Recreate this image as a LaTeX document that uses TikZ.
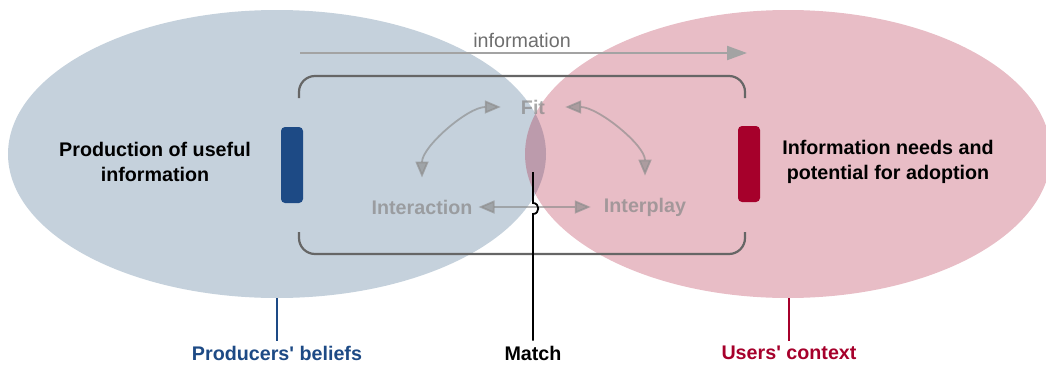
\documentclass[tikz,border=0pt]{standalone}
\usepackage{fontspec}
\setmainfont{Liberation Sans}
\usetikzlibrary{shapes.geometric,arrows.meta,calc}
\definecolor{prodblue}{HTML}{1F4E79}
\definecolor{userred}{HTML}{A50021}
\definecolor{barblue}{HTML}{1D4A85}
\definecolor{barred}{HTML}{A6002B}
\definecolor{faint}{HTML}{8C8C8C}
\definecolor{infogray}{HTML}{A3A3A3}
\definecolor{bracketgray}{HTML}{666666}
\begin{document}
\begin{tikzpicture}[x=1pt,y=-1pt,
  every node/.style={font=\fontsize{19.7}{25}\selectfont, inner sep=0pt},
  region/.style={ellipse, fill opacity=0.26, inner sep=0pt},
  bar/.style={rounded corners=4pt, minimum width=22pt, minimum height=76pt},
  heading/.style={font=\fontsize{19.7}{25}\selectfont\bfseries, align=center},
  faded/.style={font=\fontsize{19.7}{25}\selectfont\bfseries, text=faint, text opacity=0.75},
  fadearrow/.style={draw=faint, draw opacity=0.65, fill opacity=0.65, line width=1.8pt,
    {Triangle[length=16pt,width=13pt]}-{Triangle[length=16pt,width=13pt]}},
  bracket/.style={draw=bracketgray, line width=2.2pt, rounded corners=16pt},
  stem/.style={line width=1.8pt}
]
\useasboundingbox (0,0) rectangle (1046,367);

% the two context regions
\node[region, fill=prodblue, minimum width=538pt, minimum height=288pt] (prod) at (277,154) {};
\node[region, fill=userred, minimum width=526pt, minimum height=288pt] (users) at (788,154) {};

% information flow
\coordinate (infostart) at (300,53);
\coordinate (infoend) at (747,53);
\draw[draw=infogray, line width=2.2pt, -{Triangle[length=20pt,width=14pt]}] (infostart) -- (infoend);
\node[font=\fontsize{19.7}{25}\selectfont, text=black!57] (infolabel) at (522,40) {information};

% brackets around the match
\draw[bracket] (299,98) -- (299,76) -- (745,76) -- (745,98);
\draw[bracket] (299,232) -- (299,254) -- (745,254) -- (745,232);

% side bars
\node[bar, fill=barblue] (prodbar) at (292,165) {};
\node[bar, fill=barred] (userbar) at (749,164) {};

% main texts
\node[heading] (prodtext) at (155,162) {Production of useful\\information};
\node[heading] (usertext) at (888,162) {Information needs and\\potential for adoption};

% fit / interaction / interplay
\node[faded] (fit) at (533,107) {Fit};
\node[faded] (interaction) at (422,207) {Interaction};
\node[faded] (interplay) at (645,207) {Interplay};

\draw[fadearrow, shorten <=22pt, shorten >=20pt] (interaction.north) to[out=90,in=180] (fit.west);
\draw[fadearrow, shorten <=20pt, shorten >=22pt] (fit.east) to[out=0,in=90] (interplay.north);
\draw[fadearrow, shorten <=6pt, shorten >=13pt] (interaction.east) -- (interplay.west);

% bottom labels
\node[heading, text=barblue] (belief) at (277,353) {Producers\textquotesingle\ beliefs};
\node[heading] (match) at (533,353) {Match};
\node[heading, text=barred] (context) at (789,353) {Users\textquotesingle\ context};

\draw[stem, draw=barblue] (277,298) -- ($(belief.north)+(0,-5)$);
\draw[stem, draw=barred] (789,298) -- ($(context.north)+(0,-5)$);

% match line hopping over the horizontal arrow
\coordinate (matchtop) at (533,172);
\draw[stem, draw=black] (matchtop) -- (533,203)
  .. controls (540,203) and (540,214) .. (533,214)
  -- ($(match.north)+(0,-5)$);
\end{tikzpicture}
\end{document}
